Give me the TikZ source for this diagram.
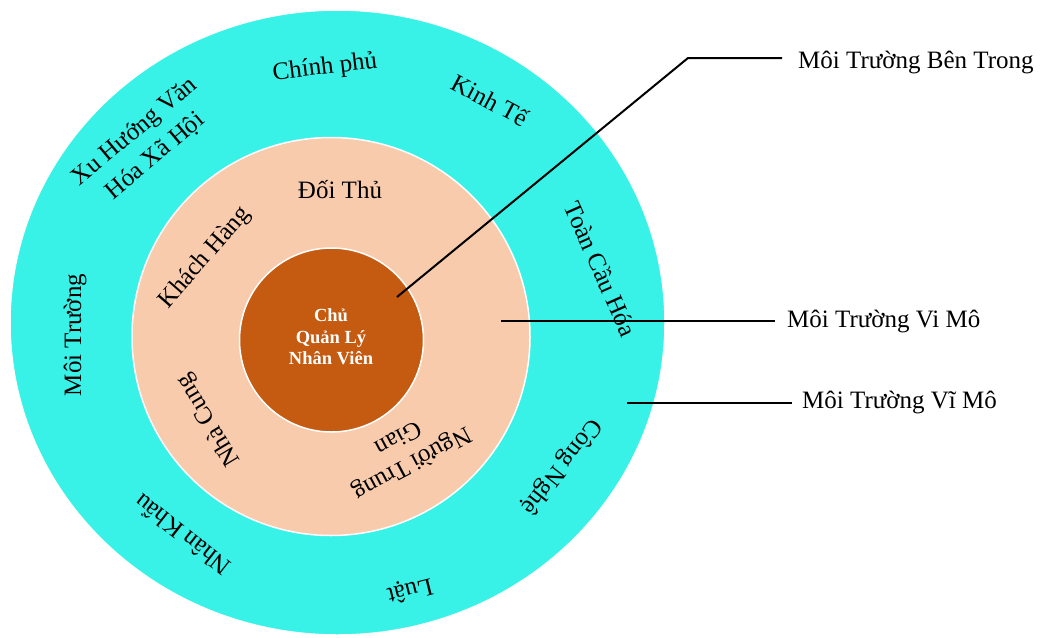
\documentclass[tikz,border=0pt]{standalone}
\usepackage{fontspec}
\setmainfont{Liberation Serif}
\definecolor{macro}{RGB}{56,242,232}
\definecolor{micro}{RGB}{248,203,173}
\definecolor{core}{RGB}{197,90,17}
\begin{document}
\begin{tikzpicture}[x=1pt,y=-1pt,
  ring/.style={draw=white,line width=1.5pt},
  lbl/.style={font=\fontsize{25}{32}\selectfont,inner sep=0pt,align=center},
  corelbl/.style={font=\bfseries\fontsize{18.5}{21.5}\selectfont,text=white,align=center,inner sep=0pt},
  side/.style={font=\fontsize{25}{28}\selectfont,anchor=base west,inner ysep=0pt},
  lead/.style={line width=2pt}]
\useasboundingbox (0,0) rectangle (1043,637);

% three nested environments
\draw[ring,fill=macro] (337.5,322.5) ellipse [x radius=327.5, y radius=312.5];
\draw[ring,fill=micro] (331,336.5) circle [radius=199];
\draw[ring,fill=core] (331.5,340) circle [radius=92];

% core
\node[corelbl] (core) at (331,337) {Chủ\\Quản Lý\\Nhân Viên};

% micro environment
\node[lbl] (doithu)    at (340,190) {Đối Thủ};
\node[lbl,rotate=49]  (khach)  at (205,258) {Khách Hàng};
\node[lbl,rotate=121] (nhacc)  at (209,420) {Nhà Cung};
\node[lbl,rotate=208,font=\fontsize{25}{29}\selectfont] (trung) at (406,452) {Người Trung\\Gian};

% macro environment
\node[lbl,rotate=7]   (cphu)   at (325,68)  {Chính phủ};
\node[lbl,rotate=-28] (kte)    at (490,100) {Kinh Tế};
\node[lbl,rotate=40]  (xh)     at (145,144) {Xu Hướng Văn\\Hóa Xã Hội};
\node[lbl,rotate=90]  (mtr)    at (75,335)  {Môi Trường};
\node[lbl,rotate=-66] (tch)    at (601,269) {Toàn Cầu Hóa};
\node[lbl,rotate=232] (cn)     at (561,466) {Công Nghệ};
\node[lbl,rotate=194] (luat)   at (410,590) {Luật};
\node[lbl,rotate=142] (nk)     at (182,535) {Nhân Khẩu};

% legend labels
\node[side,inner xsep=16pt] (lblIn)    at (782,68)  {Môi Trường Bên Trong};
\node[side,inner xsep=12pt] (lblMicro) at (775,327) {Môi Trường Vi Mô};
\node[side,inner xsep=10pt] (lblMacro) at (792,408) {Môi Trường Vĩ Mô};

% leader lines
\coordinate (pIn)    at (397,297);
\coordinate (bendIn) at (688,58);
\coordinate (pMicro) at (501,321);
\coordinate (pMacro) at (627,403);
\draw[lead] (pIn) -- (bendIn) -- (bendIn -| lblIn.west);
\draw[lead] (pMicro) -- (pMicro -| lblMicro.west);
\draw[lead] (pMacro) -- (pMacro -| lblMacro.west);
\end{tikzpicture}
\end{document}
